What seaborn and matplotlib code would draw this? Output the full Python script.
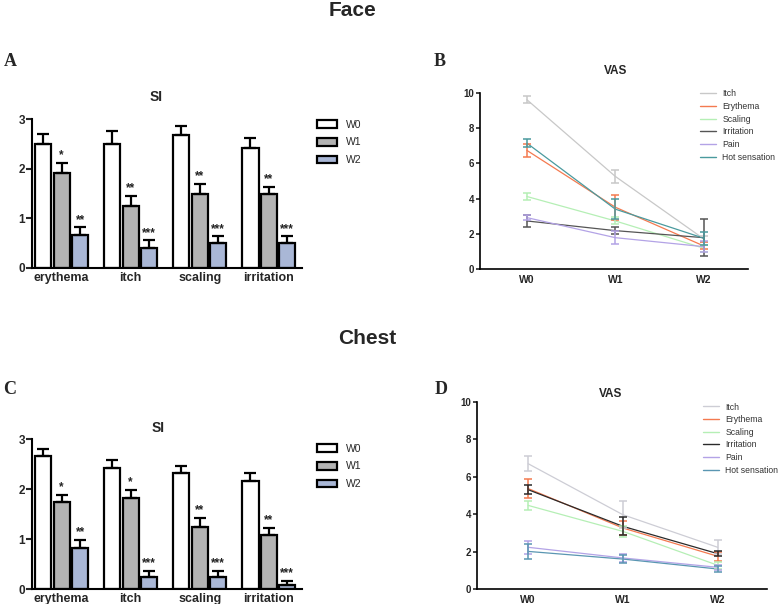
import numpy as np
import pandas as pd
import matplotlib
matplotlib.use("Agg")
import matplotlib.pyplot as plt
from matplotlib.patches import Patch
from matplotlib.lines import Line2D
from matplotlib.container import BarContainer
import seaborn as sns

# ---------------- data ----------------
categories = ["erythema", "itch", "scaling", "irritation"]
weeks = ["W0", "W1", "W2"]

face_si_w0 = [2.50, 2.50, 2.68, 2.42]
face_si_w1 = [1.92, 1.25, 1.50, 1.50]
face_si_w2 = [0.67, 0.41, 0.50, 0.50]
face_si_err_w0 = [0.20, 0.25, 0.18, 0.20]
face_si_err_w1 = [0.20, 0.20, 0.19, 0.14]
face_si_err_w2 = [0.15, 0.15, 0.14, 0.14]
face_si_stars_w1 = ["*", "**", "**", "**"]
face_si_stars_w2 = ["**", "***", "***", "***"]

chest_si_w0 = [2.66, 2.43, 2.33, 2.16]
chest_si_w1 = [1.75, 1.83, 1.25, 1.08]
chest_si_w2 = [0.83, 0.25, 0.25, 0.08]
chest_si_err_w0 = [0.15, 0.15, 0.13, 0.17]
chest_si_err_w1 = [0.13, 0.16, 0.18, 0.15]
chest_si_err_w2 = [0.15, 0.12, 0.12, 0.08]
chest_si_stars_w1 = ["*", "*", "**", "**"]
chest_si_stars_w2 = ["**", "***", "***", "***"]

vas_series = ["Itch", "Erythema", "Scaling", "Irritation", "Pain", "Hot sensation"]
vas_weeks = ["W0", "W1", "W2"]

face_vas_itch = [9.62, 5.26, 1.71]
face_vas_erythema = [6.74, 3.51, 1.31]
face_vas_scaling = [4.12, 2.73, 1.18]
face_vas_irritation = [2.73, 2.18, 1.78]
face_vas_pain = [2.92, 1.78, 1.27]
face_vas_hot = [7.15, 3.40, 1.75]
face_vas_err_itch = [0.20, 0.38, 0.15]
face_vas_err_erythema = [0.35, 0.70, 0.20]
face_vas_err_scaling = [0.20, 0.20, 0.20]
face_vas_err_irritation = [0.33, 0.20, 1.05]
face_vas_err_pain = [0.15, 0.36, 0.30]
face_vas_err_hot = [0.23, 0.55, 0.38]

chest_vas_itch = [6.70, 3.97, 2.23]
chest_vas_erythema = [5.37, 3.26, 1.75]
chest_vas_scaling = [4.47, 3.08, 1.27]
chest_vas_irritation = [5.31, 3.35, 1.89]
chest_vas_pain = [2.23, 1.66, 1.16]
chest_vas_hot = [2.01, 1.60, 1.07]
chest_vas_err_itch = [0.40, 0.73, 0.38]
chest_vas_err_erythema = [0.50, 0.35, 0.25]
chest_vas_err_scaling = [0.22, 0.30, 0.20]
chest_vas_err_irritation = [0.23, 0.48, 0.15]
chest_vas_err_pain = [0.35, 0.20, 0.15]
chest_vas_err_hot = [0.38, 0.20, 0.18]

# ---------------- style ----------------
sns.set_style("ticks")
plt.rcParams["font.family"] = ["Liberation Sans", "DejaVu Sans"]

bar_colors = {"W0": "#ffffff", "W1": "#b3b3b3", "W2": "#a9b7d6"}
face_line_colors = {"Itch": "#c8c8c8", "Erythema": "#f47a50", "Scaling": "#b5efb5",
                    "Irritation": "#555555", "Pain": "#b3a3e6", "Hot sensation": "#4a9a9e"}
chest_line_colors = {"Itch": "#cdcdd5", "Erythema": "#f47a50", "Scaling": "#b5efb5",
                     "Irritation": "#2a2a2a", "Pain": "#b3a3e6", "Hot sensation": "#5a96b2"}

W, H = 779, 604
fig = plt.figure(figsize=(W / 100, H / 100), dpi=100)


def px_axes(left, top, right, bottom):
    return fig.add_axes([left / W, 1 - bottom / H, (right - left) / W, (bottom - top) / H])


def style_axes(ax, lw=1.5):
    sns.despine(ax=ax)
    for s in ["left", "bottom"]:
        ax.spines[s].set_linewidth(lw)
        ax.spines[s].set_color("black")


def bar_panel(ax, means, errs, stars_w1, stars_w2, legend_xy):
    df = pd.DataFrame({
        "category": categories * 3,
        "week": sum([[w] * len(categories) for w in weeks], []),
        "value": means[0] + means[1] + means[2],
    })
    sns.barplot(data=df, x="category", y="value", hue="week", order=categories,
                hue_order=weeks, palette=bar_colors, edgecolor="black", linewidth=1.6,
                width=0.8, gap=0.12, errorbar=None, legend=False, ax=ax, saturation=1)
    star_lists = [None, stars_w1, stars_w2]
    bar_conts = [c for c in ax.containers if isinstance(c, BarContainer)]
    for wi, cont in enumerate(bar_conts):
        for ci, patch in enumerate(cont.patches):
            xc = patch.get_x() + patch.get_width() / 2
            h = patch.get_height()
            e = errs[wi][ci]
            ax.errorbar([xc], [h], yerr=[[0], [e]], fmt="none", ecolor="black",
                        elinewidth=1.6, capsize=4.5, capthick=1.6, zorder=1)
            if star_lists[wi] is not None:
                ax.text(xc, h + e + 0.03, star_lists[wi][ci], ha="center", va="bottom",
                        fontsize=8.5, fontweight="bold", color="#222222")
    ax.set_ylim(0, 3)
    ax.set_xlim(-0.43, 3.48)
    ax.set_yticks([0, 1, 2, 3])
    ax.set_xlabel("")
    ax.set_ylabel("")
    ax.tick_params(axis="y", length=4, width=1.5, labelsize=8.5, pad=1)
    ax.tick_params(axis="x", length=0, labelsize=9, pad=3)
    for t in ax.get_xticklabels() + ax.get_yticklabels():
        t.set_fontweight("bold")
    style_axes(ax)
    handles = [Patch(facecolor=bar_colors[w], edgecolor="black", linewidth=1.6, label=w)
               for w in weeks]
    fig.legend(handles=handles, loc="upper left",
               bbox_to_anchor=(legend_xy[0] / W, 1 - legend_xy[1] / H),
               frameon=False, fontsize=7.5, handlelength=1.9, handleheight=0.8,
               handletextpad=0.9, labelspacing=0.75, borderpad=0, borderaxespad=0)


def vas_panel(ax, series_vals, series_errs, colors, xlim, legend_xy):
    rows = []
    for s, vals in zip(vas_series, series_vals):
        for t, v in enumerate(vals):
            rows.append({"t": t, "value": v, "series": s})
    df = pd.DataFrame(rows)
    sns.lineplot(data=df, x="t", y="value", hue="series", hue_order=vas_series,
                 palette=colors, linewidth=0.9, errorbar=None, legend=False, ax=ax)
    for s, vals, errs in zip(vas_series, series_vals, series_errs):
        ax.errorbar(range(len(vals)), vals, yerr=errs, fmt="none", ecolor=colors[s],
                    elinewidth=1.1, capsize=3, capthick=1.1)
    ax.set_ylim(0, 10)
    ax.set_xlim(*xlim)
    ax.set_yticks([0, 2, 4, 6, 8, 10])
    ax.set_xticks(range(len(vas_weeks)))
    ax.set_xticklabels(vas_weeks)
    ax.set_xlabel("")
    ax.set_ylabel("")
    ax.tick_params(axis="y", length=3, width=1.2, labelsize=7, pad=1)
    ax.tick_params(axis="x", length=0, labelsize=7.5, pad=4)
    for t in ax.get_xticklabels() + ax.get_yticklabels():
        t.set_fontweight("bold")
    style_axes(ax, 1.2)
    handles = [Line2D([], [], color=colors[s], linewidth=1.0, label=s) for s in vas_series]
    leg = fig.legend(handles=handles, loc="upper left",
                     bbox_to_anchor=(legend_xy[0] / W, 1 - legend_xy[1] / H),
                     frameon=False, fontsize=6.2, handlelength=1.9,
                     handletextpad=0.7, labelspacing=0.42, borderpad=0, borderaxespad=0)
    for t in leg.get_texts():
        t.set_color("#333333")


# Panel A
axA = px_axes(32, 119, 302, 268)
bar_panel(axA, [face_si_w0, face_si_w1, face_si_w2],
          [face_si_err_w0, face_si_err_w1, face_si_err_w2],
          face_si_stars_w1, face_si_stars_w2, (317, 119.5))

# Panel C
axC = px_axes(32, 439, 302, 589)
bar_panel(axC, [chest_si_w0, chest_si_w1, chest_si_w2],
          [chest_si_err_w0, chest_si_err_w1, chest_si_err_w2],
          chest_si_stars_w1, chest_si_stars_w2, (317, 443.5))

# Panel B
axB = px_axes(480, 93, 748, 269)
vas_panel(axB,
          [face_vas_itch, face_vas_erythema, face_vas_scaling, face_vas_irritation,
           face_vas_pain, face_vas_hot],
          [face_vas_err_itch, face_vas_err_erythema, face_vas_err_scaling,
           face_vas_err_irritation, face_vas_err_pain, face_vas_err_hot],
          face_line_colors, (-0.53, 2.5), (700, 89.5))

# Panel D
axD = px_axes(477, 402, 767, 589)
vas_panel(axD,
          [chest_vas_itch, chest_vas_erythema, chest_vas_scaling, chest_vas_irritation,
           chest_vas_pain, chest_vas_hot],
          [chest_vas_err_itch, chest_vas_err_erythema, chest_vas_err_scaling,
           chest_vas_err_irritation, chest_vas_err_pain, chest_vas_err_hot],
          chest_line_colors, (-0.54, 2.52), (703, 402.5))

# Titles and panel letters
def ftext(x, y, s, **kw):
    fig.text(x / W, 1 - y / H, s, ha="center", va="center", **kw)

ftext(352, 11, "Face", fontsize=15, fontweight="bold")
ftext(367, 339, "Chest", fontsize=15, fontweight="bold")
ftext(156, 97, "SI", fontsize=10, fontweight="bold")
ftext(158, 428, "SI", fontsize=10, fontweight="bold")
ftext(616, 71, "VAS", fontsize=8.5, fontweight="bold")
ftext(611, 394, "VAS", fontsize=8.5, fontweight="bold")
serif = ["Liberation Serif", "DejaVu Serif"]
ftext(10, 62, "A", fontsize=13, fontweight="bold", family=serif)
ftext(440, 62, "B", fontsize=13, fontweight="bold", family=serif)
ftext(10, 389, "C", fontsize=13, fontweight="bold", family=serif)
ftext(441, 389, "D", fontsize=13, fontweight="bold", family=serif)

fig.savefig("out.png", dpi=100)
